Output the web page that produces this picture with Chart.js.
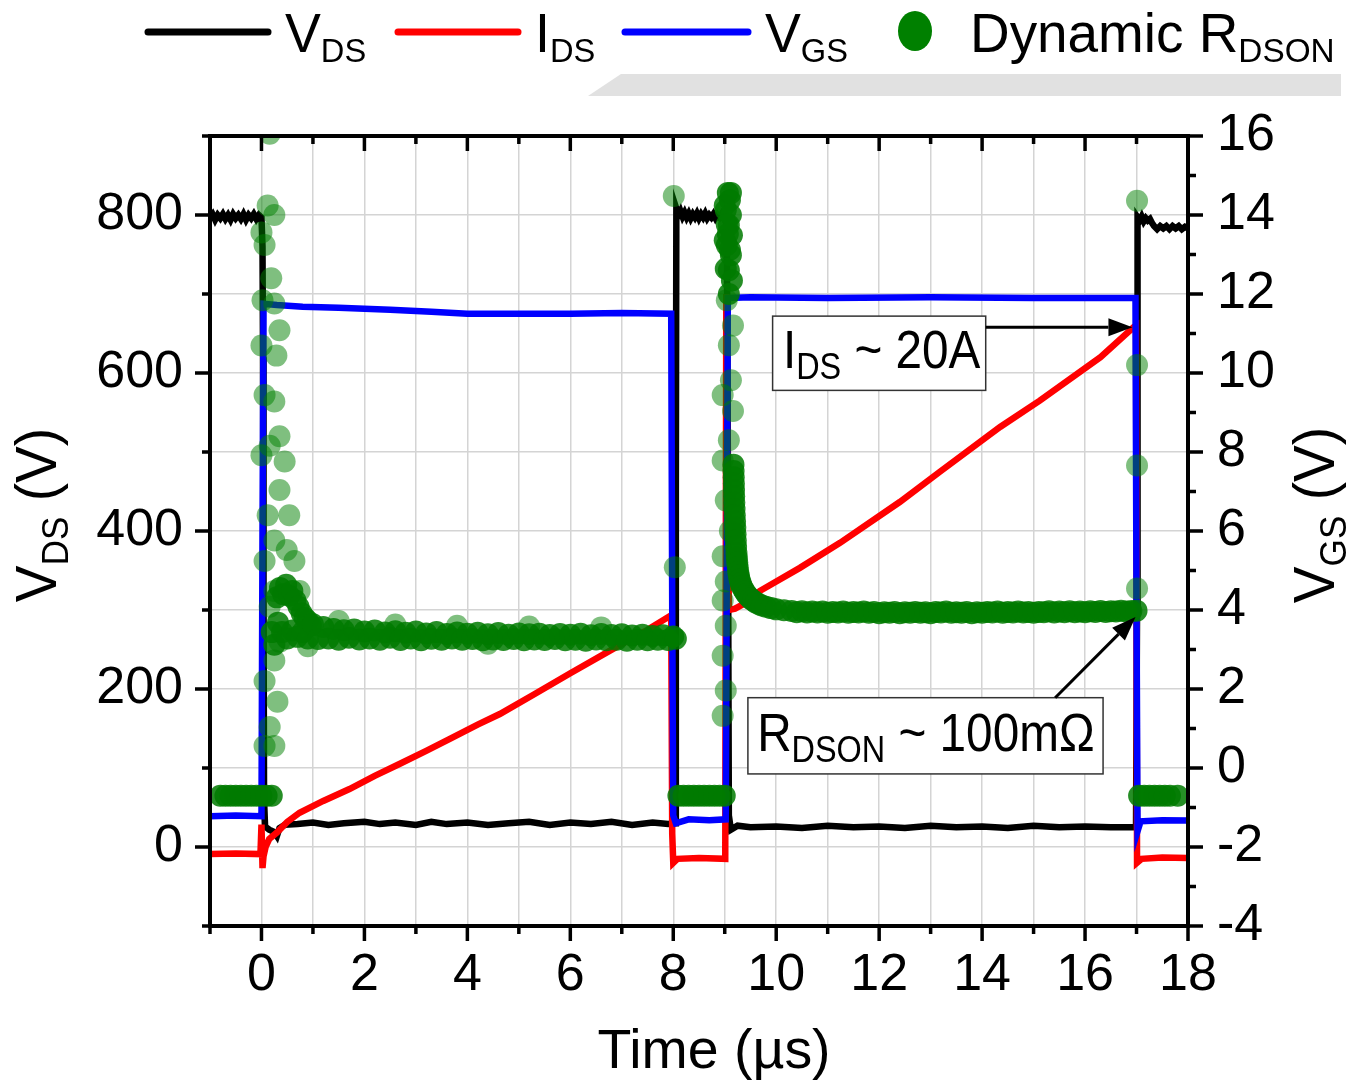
<!DOCTYPE html>
<html>
<head>
<meta charset="utf-8">
<script src="https://cdn.jsdelivr.net/npm/chart.js@4.4.1/dist/chart.umd.min.js"></script>
<style>
  html, body { margin: 0; padding: 0; background: #fff; }
  canvas { display: block; }
</style>
</head>
<body>
<canvas id="c" width="1361" height="1082"></canvas>
<script>
// double pulse test waveforms, time in µs

// V_DS [t, V]
const vdsPts = [
  [-1.00, 797], [-0.95, 801], [-0.90, 794], [-0.85, 800], [-0.80, 796], [-0.75, 801], [-0.70, 795],
  [-0.65, 800], [-0.60, 794], [-0.55, 801], [-0.50, 796], [-0.45, 800], [-0.40, 795], [-0.35, 801],
  [-0.30, 794], [-0.25, 800], [-0.20, 796], [-0.15, 801], [-0.10, 795], [-0.05, 800], [0.00, 797],
  [0.02, 760], [0.03, 620], [0.04, 320], [0.05, 60], [0.07, 26], [0.15, 22], [0.25, 19], [0.30, 14],
  [0.35, 24], [0.45, 28], [0.70, 29], [1.00, 31], [1.30, 28], [1.60, 30], [2.00, 32], [2.30, 29],
  [2.60, 31], [3.00, 28], [3.30, 32], [3.60, 29], [4.00, 31], [4.40, 28], [4.80, 30], [5.20, 32],
  [5.60, 28], [6.00, 31], [6.40, 29], [6.80, 32], [7.20, 28], [7.60, 31], [7.90, 29], [8.04, 30],
  [8.05, 450], [8.06, 808], [8.10, 800], [8.14, 805], [8.18, 798], [8.22, 803], [8.26, 797],
  [8.30, 802], [8.34, 796], [8.38, 801], [8.42, 797], [8.46, 802], [8.50, 796], [8.54, 801],
  [8.58, 797], [8.62, 802], [8.66, 796], [8.70, 800], [8.74, 797], [8.78, 801], [8.82, 796],
  [8.86, 800], [8.90, 797], [8.94, 801], [8.98, 796], [9.02, 800], [9.04, 797],
  [9.06, 500], [9.08, 40], [9.12, 22], [9.25, 27], [9.50, 25], [10.0, 26], [10.5, 24], [11.0, 27],
  [11.5, 25], [12.0, 26], [12.5, 24], [13.0, 27], [13.5, 25], [14.0, 26], [14.5, 24], [15.0, 27],
  [15.5, 25], [16.0, 26], [16.5, 25], [16.99, 25], [17.01, 300], [17.02, 797], [17.06, 793],
  [17.10, 798], [17.14, 792], [17.18, 796], [17.22, 793], [17.26, 795], [17.30, 790], [17.34, 786],
  [17.40, 782], [17.46, 786], [17.52, 783], [17.58, 786], [17.64, 782], [17.70, 786], [17.76, 783],
  [17.82, 786], [17.88, 782], [17.94, 785], [18.00, 783]
];

// I_DS [t, A]
const idsPts = [
  [-1.00, -0.27], [-0.50, -0.25], [-0.02, -0.27], [0.00, 0.85], [0.02, -0.80], [0.04, -0.35],
  [0.08, 0.00], [0.15, 0.30], [0.30, 0.55], [0.50, 0.95], [0.74, 1.30], [1.20, 1.75], [1.71, 2.20],
  [2.20, 2.70], [2.68, 3.15], [3.20, 3.65], [3.65, 4.10], [4.20, 4.65], [4.63, 5.05], [5.30, 5.80],
  [6.00, 6.60], [6.90, 7.60], [7.50, 8.25], [7.96, 8.80], [7.98, 0.50], [8.00, -0.60], [8.08, -0.45],
  [8.50, -0.42], [9.01, -0.45], [9.03, 21.0], [9.05, 14.0], [9.08, 9.00], [9.20, 9.05], [9.49, 9.36],
  [9.68, 9.72], [10.46, 10.6], [11.24, 11.55], [12.40, 13.1], [13.18, 14.25], [14.35, 15.95],
  [15.12, 16.95], [16.30, 18.6], [16.95, 19.75], [16.99, 19.8], [17.01, -0.60], [17.10, -0.45],
  [17.50, -0.40], [18.00, -0.42]
];

// V_GS [t, V]
const vgsPts = [
  [-1.00, -1.22], [-0.50, -1.20], [0.00, -1.22], [0.02, 6.0], [0.04, 11.75], [0.30, 11.72],
  [0.80, 11.68], [1.50, 11.65], [2.50, 11.60], [3.30, 11.55], [4.00, 11.50], [5.00, 11.50],
  [6.00, 11.50], [7.00, 11.52], [7.96, 11.50], [7.98, 4.0], [8.00, -1.20], [8.05, -1.40],
  [8.30, -1.30], [8.70, -1.32], [9.02, -1.30], [9.04, 5.0], [9.06, 11.90], [9.50, 11.92],
  [11.0, 11.90], [13.0, 11.92], [15.0, 11.90], [16.98, 11.90], [17.00, 4.0], [17.02, -1.60],
  [17.08, -1.35], [17.50, -1.32], [18.00, -1.33]
];

// dynamic R_DSON [t, mΩ], dense runs
const rdsOff = [
  [-0.8, 41.2], [-0.7, 41.2], [-0.6, 41.2], [-0.5, 41.2], [-0.4, 41.2], [-0.3, 41.2], [-0.2, 41.2],
  [-0.1, 41.2], [0.0, 41.2], [0.1, 41.2], [0.2, 41.2],
  [8.1, 41.2], [8.2, 41.2], [8.3, 41.2], [8.4, 41.2], [8.5, 41.2], [8.6, 41.2], [8.7, 41.2],
  [8.8, 41.2], [8.9, 41.2], [9.0, 41.2],
  [17.05, 41.2], [17.15, 41.2], [17.25, 41.2], [17.35, 41.2], [17.45, 41.2], [17.55, 41.2],
  [17.65, 41.2], [17.8, 41.2]
];
const rdsBand1 = [
  [0.30, 104], [0.36, 107], [0.42, 105], [0.48, 108], [0.54, 104.5], [0.60, 106], [0.66, 103],
  [0.72, 101], [0.78, 99], [0.84, 97.5], [0.90, 96.5], [0.96, 95], [0.20, 93], [0.25, 89],
  [0.32, 96], [0.40, 93], [0.50, 91], [0.60, 93.5], [0.70, 91.5], [0.80, 93], [0.90, 91],
  [1.0, 95.5], [1.1, 90.8], [1.2, 94.6], [1.3, 91.0], [1.4, 94.0], [1.5, 90.6], [1.6, 93.6],
  [1.7, 91.2], [1.8, 93.8], [1.9, 90.7], [2.0, 93.2], [2.1, 91.0], [2.2, 93.5], [2.3, 90.6],
  [2.4, 92.9], [2.5, 91.2], [2.6, 93.3], [2.7, 90.5], [2.8, 92.8], [2.9, 91.0], [3.0, 93.2],
  [3.1, 90.4], [3.2, 92.6], [3.3, 90.9], [3.4, 93.0], [3.5, 90.6], [3.6, 92.4], [3.7, 91.0],
  [3.8, 92.9], [3.9, 90.6], [4.0, 92.5], [4.1, 90.8], [4.2, 92.8], [4.3, 90.4], [4.4, 92.3],
  [4.5, 90.7], [4.6, 92.7], [4.7, 90.5], [4.8, 92.2], [4.9, 90.8], [5.0, 92.6], [5.1, 90.4],
  [5.2, 92.3], [5.3, 90.7], [5.4, 92.5], [5.5, 90.5], [5.6, 92.1], [5.7, 90.8], [5.8, 92.4],
  [5.9, 90.4], [6.0, 92.2], [6.1, 90.6], [6.2, 92.5], [6.3, 90.3], [6.4, 92.0], [6.5, 90.7],
  [6.6, 92.4], [6.7, 90.4], [6.8, 92.1], [6.9, 90.6], [7.0, 92.3], [7.1, 90.3], [7.2, 91.9],
  [7.3, 90.6], [7.4, 92.2], [7.5, 90.4], [7.6, 91.8], [7.7, 90.6], [7.8, 92.0], [7.9, 90.5],
  [8.0, 91.6], [8.05, 90.9]
];
const rdsBand2 = [
  [9.06, 232], [9.10, 229.7], [9.00, 228], [9.02, 226.5], [9.12, 225], [9.08, 221.8], [9.06, 219],
  [9.14, 218.6], [9.04, 215.4], [9.10, 214], [9.12, 212.3], [9.02, 208], [9.08, 207.5], [9.14, 204.3],
  [9.08, 200], [9.04, 222], [9.12, 232], [9.0, 217],
  [9.17, 146], [9.172, 144], [9.175, 142], [9.178, 140], [9.18, 138], [9.183, 136], [9.186, 134],
  [9.19, 132], [9.195, 130], [9.20, 128], [9.205, 126], [9.21, 124], [9.215, 122], [9.22, 120],
  [9.228, 118], [9.235, 116.5], [9.243, 115], [9.252, 113.5], [9.262, 112], [9.275, 110.8],
  [9.29, 109.6], [9.31, 108.5], [9.33, 107.5], [9.36, 106.6], [9.39, 105.8], [9.42, 105],
  [9.46, 104.3], [9.50, 103.6], [9.55, 103], [9.60, 102.4], [9.66, 101.9], [9.72, 101.4],
  [9.80, 101], [9.90, 100.6], [10.0, 100.2], [10.15, 99.9],
  [10.3, 99.7], [10.4, 99.3], [10.5, 99.6], [10.6, 99.2], [10.7, 99.5], [10.8, 99.2], [10.9, 99.5],
  [11.0, 99.1], [11.1, 99.4], [11.2, 99.2], [11.3, 99.5], [11.4, 99.1], [11.5, 99.4], [11.6, 99.2],
  [11.7, 99.5], [11.8, 99.1], [11.9, 99.4], [12.0, 99.0], [12.1, 99.3], [12.2, 99.1], [12.3, 99.4],
  [12.4, 99.0], [12.5, 99.3], [12.6, 99.1], [12.7, 99.4], [12.8, 99.1], [12.9, 99.3], [13.0, 99.0],
  [13.1, 99.4], [13.2, 99.2], [13.3, 99.5], [13.4, 99.1], [13.5, 99.3], [13.6, 99.1], [13.7, 99.4],
  [13.8, 99.0], [13.9, 99.3], [14.0, 99.1], [14.1, 99.4], [14.2, 99.2], [14.3, 99.5], [14.4, 99.1],
  [14.5, 99.4], [14.6, 99.2], [14.7, 99.5], [14.8, 99.2], [14.9, 99.4], [15.0, 99.1], [15.1, 99.4],
  [15.2, 99.3], [15.3, 99.6], [15.4, 99.2], [15.5, 99.5], [15.6, 99.3], [15.7, 99.6], [15.8, 99.3],
  [15.9, 99.5], [16.0, 99.3], [16.1, 99.6], [16.2, 99.4], [16.3, 99.7], [16.4, 99.4], [16.5, 99.6],
  [16.6, 99.5], [16.7, 99.8], [16.8, 99.5], [16.9, 99.7], [17.0, 99.8]
];
// dynamic R_DSON, scattered points around the switching edges
const rdsSparse = [
  [0.16, 250.7], [0.12, 228], [0.25, 225], [0.00, 219.5], [0.06, 215.5], [0.19, 205], [0.02, 198],
  [0.25, 197], [0.35, 188.5], [0.29, 180.5], [0.00, 183.7], [0.06, 168], [0.25, 166], [0.35, 155],
  [0.16, 152], [0.45, 147], [0.00, 149], [0.35, 138], [0.54, 130], [0.12, 130], [0.25, 122],
  [0.49, 119], [0.64, 115.5], [0.06, 115.5], [0.25, 106], [0.74, 106], [0.16, 101], [0.35, 90],
  [0.25, 84], [0.06, 77.5], [0.31, 71], [0.16, 63], [0.06, 57], [0.25, 57],
  [1.5, 96.5], [2.6, 95.4], [3.8, 95.0], [5.2, 94.8], [6.6, 94.5], [0.9, 88.5], [4.4, 89.3],
  [8.01, 231], [8.03, 113.5],
  [9.04, 198], [9.16, 190], [9.08, 183.8], [9.12, 172.7], [8.96, 168], [9.16, 163], [9.08, 153.7],
  [8.96, 147.3], [9.02, 134.7], [9.10, 125], [8.96, 117], [9.02, 109], [8.96, 103], [9.02, 95],
  [8.96, 85.5], [9.02, 74.5], [8.96, 66.5],
  [17.01, 229.5], [17.01, 177.5], [17.01, 145.7], [17.01, 106.8]
];

const xTickLabels = [0, 2, 4, 6, 8, 10, 12, 14, 16, 18];
const vdsTickLabels = [0, 200, 400, 600, 800];
const vgsTickLabels = [-4, -2, 0, 2, 4, 6, 8, 10, 12, 14, 16];

const FONT = '"Liberation Sans", Arial, sans-serif';
const toXY = pts => pts.map(([x, y]) => ({ x, y }));

// text with subscripts: parts = [text, size, dy]
function drawRich(ctx, x, y, parts, sx, align) {
  ctx.save();
  ctx.translate(x, y);
  ctx.scale(sx, 1);
  ctx.textAlign = 'left';
  ctx.textBaseline = 'alphabetic';
  ctx.fillStyle = '#000';
  let w = 0;
  for (const p of parts) {
    ctx.font = `${p[1]}px ${FONT}`;
    w += ctx.measureText(p[0]).width;
  }
  let cx = align === 'center' ? -w / 2 : 0;
  for (const p of parts) {
    ctx.font = `${p[1]}px ${FONT}`;
    ctx.fillText(p[0], cx, p[2] || 0);
    cx += ctx.measureText(p[0]).width;
  }
  ctx.restore();
}

function arrow(ctx, x1, y1, x2, y2) {
  const a = Math.atan2(y2 - y1, x2 - x1);
  const hl = 24, hw = 9;
  ctx.save();
  ctx.strokeStyle = '#000';
  ctx.fillStyle = '#000';
  ctx.lineWidth = 3;
  ctx.beginPath();
  ctx.moveTo(x1, y1);
  ctx.lineTo(x2 - hl * Math.cos(a), y2 - hl * Math.sin(a));
  ctx.stroke();
  ctx.beginPath();
  ctx.moveTo(x2, y2);
  ctx.lineTo(x2 - hl * Math.cos(a) + hw * Math.sin(a), y2 - hl * Math.sin(a) - hw * Math.cos(a));
  ctx.lineTo(x2 - hl * Math.cos(a) - hw * Math.sin(a), y2 - hl * Math.sin(a) + hw * Math.cos(a));
  ctx.closePath();
  ctx.fill();
  ctx.restore();
}

// frame, ticks, legend, titles, notes
const decor = {
  id: 'decor',
  beforeDraw(chart) {
    const ctx = chart.ctx;
    ctx.save();
    ctx.fillStyle = '#fff';
    ctx.fillRect(0, 0, chart.width, chart.height);
    ctx.fillStyle = '#e1e1e1';
    ctx.beginPath();
    ctx.moveTo(588, 96);
    ctx.lineTo(621, 74);
    ctx.lineTo(1341, 74);
    ctx.lineTo(1341, 96);
    ctx.closePath();
    ctx.fill();
    ctx.restore();
  },
  afterDatasetsDraw(chart) {
    const ctx = chart.ctx;
    const { left, right, top, bottom } = chart.chartArea;
    const sx = chart.scales.x, sv = chart.scales.y, sg = chart.scales.yG;

    ctx.save();
    ctx.strokeStyle = '#000';
    ctx.lineWidth = 4;
    ctx.strokeRect(left, top, right - left, bottom - top);

    ctx.lineWidth = 3.5;
    ctx.beginPath();
    for (let v = -1; v <= 18; v++) {
      const px = sx.getPixelForValue(v);
      const len = v % 2 === 0 ? 15 : 8;
      ctx.moveTo(px, bottom); ctx.lineTo(px, bottom + len);
      ctx.moveTo(px, top); ctx.lineTo(px, top + len);
    }
    for (let v = -100; v <= 900; v += 100) {
      const py = sv.getPixelForValue(v);
      const len = v % 200 === 0 ? 15 : 8;
      ctx.moveTo(left - len, py); ctx.lineTo(left, py);
    }
    for (let v = -4; v <= 16; v++) {
      const py = sg.getPixelForValue(v);
      const len = v % 2 === 0 ? 15 : 8;
      ctx.moveTo(right, py); ctx.lineTo(right + len, py);
    }
    ctx.stroke();

    // notes
    const X = v => sx.getPixelForValue(v), Y = v => sv.getPixelForValue(v);
    ctx.fillStyle = '#fff';
    ctx.strokeStyle = '#333';
    ctx.lineWidth = 1.5;
    const b1 = [X(9.93), Y(672), X(14.07), Y(578)];
    ctx.fillRect(b1[0], b1[1], b1[2] - b1[0], b1[3] - b1[1]);
    ctx.strokeRect(b1[0], b1[1], b1[2] - b1[0], b1[3] - b1[1]);
    const b2 = [X(9.45), Y(189), X(16.35), Y(92.5)];
    ctx.fillRect(b2[0], b2[1], b2[2] - b2[0], b2[3] - b2[1]);
    ctx.strokeRect(b2[0], b2[1], b2[2] - b2[0], b2[3] - b2[1]);
    ctx.restore();

    drawRich(ctx, X(10.13), Y(606), [['I', 53], ['DS', 36, 11], [' ~ 20A', 53]], 0.9);
    drawRich(ctx, X(9.63), Y(121), [['R', 53], ['DSON', 36, 11], [' ~ 100mΩ', 53]], 0.9);
    arrow(ctx, X(14.07), Y(658), X(16.92), Y(658));
    arrow(ctx, X(15.42), Y(189), X(16.98), Y(291));
  },
  afterDraw(chart) {
    const ctx = chart.ctx;
    // legend
    const lines = [[148, 268, '#000'], [398, 518, '#ff0000'], [625, 748, '#0000ff']];
    ctx.save();
    ctx.lineWidth = 7;
    ctx.lineCap = 'round';
    for (const [a, b, c] of lines) {
      ctx.strokeStyle = c;
      ctx.beginPath(); ctx.moveTo(a, 32); ctx.lineTo(b, 32); ctx.stroke();
    }
    ctx.fillStyle = '#008000';
    ctx.beginPath(); ctx.ellipse(915, 31, 17, 20, 0, 0, Math.PI * 2); ctx.fill();
    ctx.restore();
    drawRich(ctx, 285, 52, [['V', 56], ['DS', 34, 10]], 0.96);
    drawRich(ctx, 535, 52, [['I', 56], ['DS', 34, 10]], 0.96);
    drawRich(ctx, 765, 52, [['V', 56], ['GS', 34, 10]], 0.96);
    drawRich(ctx, 970, 52, [['Dynamic R', 56], ['DSON', 34, 10]], 0.98);

    // axis titles
    drawRich(ctx, 714, 1068, [['Time (µs)', 56]], 0.99, 'center');
    ctx.save();
    ctx.translate(56, 515);
    ctx.rotate(-Math.PI / 2);
    drawRich(ctx, 0, 0, [['V', 58], ['DS', 37, 12], [' (V)', 58]], 0.95, 'center');
    ctx.restore();
    ctx.save();
    ctx.translate(1334, 515);
    ctx.rotate(-Math.PI / 2);
    drawRich(ctx, 0, 0, [['V', 58], ['GS', 37, 12], [' (V)', 58]], 0.95, 'center');
    ctx.restore();
  }
};

const tickFont = { family: FONT, size: 52 };
const gridStyle = { color: '#d4d4d4', lineWidth: 1.5, drawTicks: false };
const dotStyle = { yAxisID: 'yR', showLine: false, pointRadius: 11, pointBorderWidth: 0, clip: 0 };
const lineStyle = { showLine: true, borderWidth: 6.5, pointRadius: 0 };

new Chart(document.getElementById('c'), {
  type: 'scatter',
  data: {
    datasets: [
      {
        ...dotStyle,
        label: 'Dynamic RDSON',
        data: toXY([...rdsOff, ...rdsBand1, ...rdsBand2]),
        pointBackgroundColor: 'rgba(0,122,0,0.85)',
        order: 0,
      },
      {
        ...dotStyle,
        label: 'Dynamic RDSON (edges)',
        data: toXY(rdsSparse),
        pointBackgroundColor: 'rgba(0,128,0,0.5)',
        order: 1,
      },
      { ...lineStyle, label: 'VGS', data: toXY(vgsPts), yAxisID: 'yG', borderColor: '#0000ff', order: 2 },
      { ...lineStyle, label: 'IDS', data: toXY(idsPts), yAxisID: 'yI', borderColor: '#ff0000', order: 3 },
      { ...lineStyle, label: 'VDS', data: toXY(vdsPts), yAxisID: 'y', borderColor: '#000000', order: 4 },
    ],
  },
  options: {
    responsive: false,
    animation: false,
    devicePixelRatio: 1,
    layout: { padding: { top: 136, left: 0, right: 0, bottom: 0 } },
    plugins: { legend: { display: false }, tooltip: { enabled: false } },
    scales: {
      x: {
        type: 'linear',
        position: 'bottom',
        min: -1, max: 18,
        grid: gridStyle,
        border: { display: false },
        ticks: {
          stepSize: 1, autoSkip: false, maxRotation: 0, padding: 18,
          font: tickFont, color: '#000',
          callback: v => (xTickLabels.includes(v) ? String(v) : ''),
        },
        afterFit: s => { s.height = 156; },
      },
      y: {
        position: 'left',
        min: -100, max: 900,
        grid: gridStyle,
        border: { display: false },
        ticks: {
          stepSize: 100, autoSkip: false, padding: 27,
          font: tickFont, color: '#000',
          callback: v => (vdsTickLabels.includes(v) ? String(v) : ''),
        },
        afterFit: s => { s.width = 210; },
      },
      yG: {
        position: 'right',
        min: -4, max: 16,
        grid: { display: false, drawTicks: false },
        border: { display: false },
        ticks: {
          stepSize: 1, autoSkip: false, padding: 29,
          font: tickFont, color: '#000',
          callback: v => (vgsTickLabels.includes(v) ? String(v) : ''),
        },
        afterFit: s => { s.width = 173; },
      },
      yI: { display: false, min: -3, max: 27 },
      yR: { display: false, min: 0, max: 250 },
    },
  },
  plugins: [decor],
});
</script>
</body>
</html>
